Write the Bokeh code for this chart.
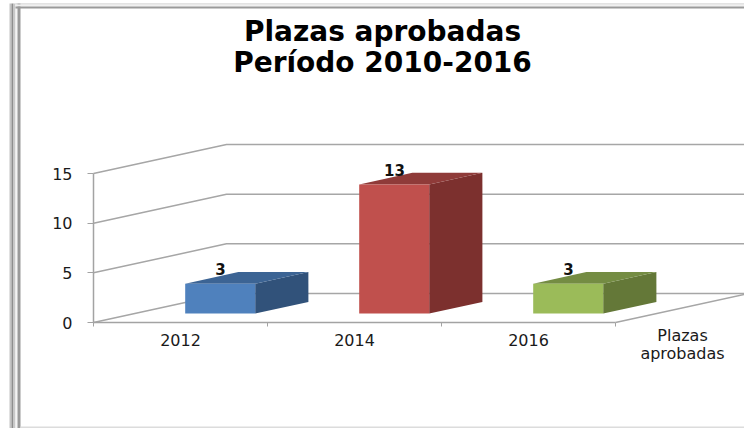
from bokeh.plotting import figure
from bokeh.models import Range1d, LinearAxis, FixedTicker, Label, BoxAnnotation
from bokeh.embed import file_html
from bokeh.resources import INLINE
from bokeh.core.properties import value

# data
title_lines = ["Plazas aprobadas", "Período 2010-2016"]
categories = ["2012", "2014", "2016"]
values = [3, 13, 3]
y_ticks = [0, 5, 10, 15]
series_name = ["Plazas", "aprobadas"]
front_colors = ["#4f81bd", "#c0504d", "#9bbb59"]
top_colors = ["#3c6494", "#8f3b39", "#748c43"]
side_colors = ["#31527a", "#7c302e", "#647838"]

W, H = 744, 428
LEFT, BOTTOM = 93, 322          # pixel position of the axes origin
CAT_W = 174.0                   # px per category
UNIT = 149.0 / 15               # px per value unit
DX = 133.0 / CAT_W              # full depth, x shift in category units
DY = 29.0 / UNIT                # full depth, y shift in value units

p = figure(width=W, height=H, output_backend="svg", toolbar_location=None,
           x_range=Range1d(-LEFT / CAT_W, (W - LEFT) / CAT_W),
           y_range=Range1d(-(H - BOTTOM) / UNIT, BOTTOM / UNIT),
           min_border=0, x_axis_location=None, y_axis_location=None,
           background_fill_color="white", border_fill_color="white",
           outline_line_color=None, styles={"position": "absolute", "left": "0px", "top": "0px"})
p.grid.visible = False

AX = "#a3a3a3"
FONT = "DejaVu Sans"
TXT = "#1a1a1a"

# axes
ya = LinearAxis(ticker=FixedTicker(ticks=y_ticks), bounds=(0, 15), fixed_location=0)
ya.axis_line_color = AX; ya.axis_line_width = 1.5
ya.major_tick_line_color = AX; ya.major_tick_out = 6; ya.major_tick_in = 0
ya.minor_tick_line_color = None
ya.major_label_text_font = FONT; ya.major_label_text_font_size = "16px"
ya.major_label_text_color = TXT; ya.major_label_standoff = 15
p.add_layout(ya, "left")

n = len(categories)
xa = LinearAxis(ticker=FixedTicker(ticks=[i + 0.5 for i in range(n)], minor_ticks=list(range(n + 1))),
                bounds=(0, n), fixed_location=0,
                major_label_overrides={i + 0.5: c for i, c in enumerate(categories)})
xa.axis_line_color = AX; xa.axis_line_width = 1.5
xa.major_tick_line_color = None; xa.major_tick_out = 0; xa.major_tick_in = 0
xa.minor_tick_line_color = AX; xa.minor_tick_out = 4; xa.minor_tick_in = 0
xa.major_label_text_font = FONT; xa.major_label_text_font_size = "16px"
xa.major_label_text_color = TXT; xa.major_label_standoff = 7
p.add_layout(xa, "below")

# walls and floor
gx, gy = [], []
for v in y_ticks:
    gx.append([0, DX, (W - LEFT) / CAT_W])
    gy.append([v, v + DY, v + DY])
gx.append([n, n + DX]); gy.append([0, DY])
p.multi_line(gx, gy, line_color="#a6a6a6", line_width=1.5)

# 3-D bars
B_L, B_R = 0.527, 0.527 + 70 / CAT_W        # front face, in category units
D0, D1 = 0.31, 0.71                         # depth of bar front and back
for i, v in enumerate(values):
    x0, x1 = i + B_L, i + B_R
    y0 = D0 * DY
    ddx, ddy = (D1 - D0) * DX, (D1 - D0) * DY
    h = v
    p.patch([x1, x1 + ddx, x1 + ddx, x1], [y0, y0 + ddy, y0 + h + ddy, y0 + h], fill_color=side_colors[i], line_color=None)
    p.patch([x0, x1, x1 + ddx, x0 + ddx], [y0 + h, y0 + h, y0 + h + ddy, y0 + h + ddy], fill_color=top_colors[i], line_color=None)
    p.patch([x0, x1, x1, x0], [y0, y0, y0 + h, y0 + h], fill_color=front_colors[i], line_color=None)

# value labels
p.text([i + 0.73 for i in range(n)], [v + D0 * DY + (D1 - D0) * DY + 0.28 for v in values],
       text=[str(v) for v in values], text_font=value(FONT), text_font_style="bold",
       text_font_size="15px", text_color="#111111", text_align="center", text_baseline="middle")

# title and series label (in screen-derived data coords)
def X(px): return (px - LEFT) / CAT_W
def Y(px): return (BOTTOM - px) / UNIT

for t, py in zip(title_lines, [31, 62]):
    p.add_layout(Label(x=X(382), y=Y(py), text=t, text_font=FONT, text_font_style="bold",
                       text_font_size="28px", text_color="#000000", text_align="center",
                       text_baseline="middle"))
for t, py in zip(series_name, [335, 353]):
    p.add_layout(Label(x=X(682), y=Y(py), text=t, text_font=FONT, text_font_size="16px",
                       text_color=TXT, text_align="center", text_baseline="middle"))

# picture frame
def strip(l, r, t, b, c):
    p.add_layout(BoxAnnotation(left=l, right=r, top=t, bottom=b, left_units="canvas", right_units="canvas",
                               top_units="canvas", bottom_units="canvas", fill_color=c, fill_alpha=1,
                               line_color=None, level="annotation"))
for x0, x1, c in [(9, 11, "#c4c4c4"), (11, 13, "#8e8e8e"), (13, 15, "#c8c8c8"),
                  (15, 17, "#f4f4f4"), (17, 20, "#9a9a9a")]:
    strip(x0, x1, 3, 428, c)
for y0, y1, c in [(3, 4, "#c8c8c8"), (4, 6, "#f0f0f0"), (6, 8, "#9a9a9a")]:
    strip(15, W, y0, y1, c)
strip(20, W, 426, 428, "#dcdcdc")

open("out.html", "w").write(file_html(p, INLINE))
